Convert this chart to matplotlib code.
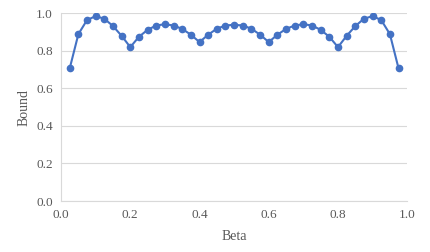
import matplotlib
matplotlib.use("Agg")
import matplotlib.pyplot as plt
import numpy as np

# data (symmetric around beta = 0.5)
beta = [0.025, 0.05, 0.075, 0.1, 0.125, 0.15, 0.175, 0.2, 0.225, 0.25,
        0.275, 0.3, 0.325, 0.35, 0.375, 0.4, 0.425, 0.45, 0.475, 0.5,
        0.525, 0.55, 0.575, 0.6, 0.625, 0.65, 0.675, 0.7, 0.725, 0.75,
        0.775, 0.8, 0.825, 0.85, 0.875, 0.9, 0.925, 0.95, 0.975]
bound = [0.706, 0.888, 0.963, 0.984, 0.970, 0.931, 0.879, 0.819, 0.874, 0.911,
         0.934, 0.941, 0.934, 0.916, 0.885, 0.846, 0.885, 0.917, 0.934, 0.938,
         0.934, 0.917, 0.885, 0.846, 0.885, 0.916, 0.934, 0.941, 0.934, 0.911,
         0.874, 0.819, 0.879, 0.931, 0.970, 0.984, 0.963, 0.888, 0.706]

plt.rcParams['font.family'] = ['Liberation Serif', 'DejaVu Serif']

fig = plt.figure(figsize=(4.3, 2.52), dpi=100)
ax = fig.add_axes([0.142, 0.202, 0.805, 0.746])

ax.plot(beta, bound, color='#4472C4', linewidth=1.5, marker='o',
        markersize=4.5, zorder=3)

ax.set_xlim(0, 1.0)
ax.set_ylim(0, 1.0)
ax.set_xticks(np.arange(0, 1.01, 0.2))
ax.set_yticks(np.arange(0, 1.01, 0.2))
ax.xaxis.set_major_formatter(matplotlib.ticker.FormatStrFormatter('%.1f'))
ax.yaxis.set_major_formatter(matplotlib.ticker.FormatStrFormatter('%.1f'))

ax.grid(axis='y', color='#D9D9D9', linewidth=0.8)
ax.set_axisbelow(True)
for s in ['top', 'right']:
    ax.spines[s].set_visible(False)
ax.spines['left'].set_color('#D9D9D9')
ax.spines['bottom'].set_color('#D9D9D9')
ax.tick_params(length=0, labelsize=9.5, colors='#595959', pad=6)

ax.set_xlabel('Beta', fontsize=10, color='#595959', labelpad=6)
ax.set_ylabel('Bound', fontsize=10, color='#595959', labelpad=4)

fig.savefig('out.png', dpi=100)
